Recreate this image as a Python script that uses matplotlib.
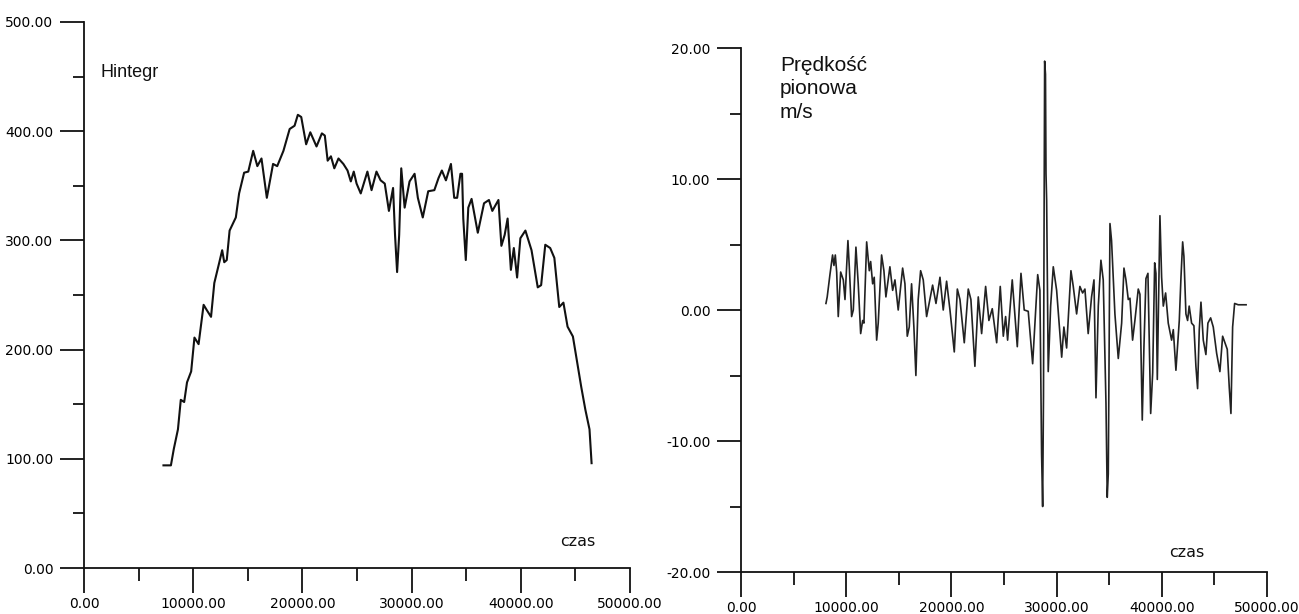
import matplotlib
matplotlib.use("Agg")
import matplotlib.pyplot as plt
from matplotlib.ticker import MultipleLocator, FormatStrFormatter

# ---- Left chart: Hintegr vs czas ----
h_time = [7273, 7955, 8220, 8600, 8860, 9170, 9430, 9810, 10110, 10490, 10950, 11250,
          11630, 11930, 12390, 12650, 12840, 13070, 13330, 13900, 14200, 14660, 15040,
          15490, 15870, 16250, 16740, 17310, 17690, 18260, 18830, 19280, 19580, 19890,
          20340, 20720, 21290, 21780, 22050, 22310, 22610, 22920, 23300, 23750, 24130,
          24430, 24700, 24960, 25340, 25950, 26330, 26780, 27160, 27540, 27920, 28300,
          28480, 28670, 28860, 29050, 29360, 29810, 30270, 30570, 31020, 31520, 32080,
          32460, 32770, 33140, 33600, 33900, 34170, 34470, 34620, 34730, 34960, 35190,
          35490, 36060, 36630, 37080, 37390, 37950, 38220, 38520, 38790, 39090, 39360,
          39660, 39960, 40420, 40980, 41550, 41860, 42240, 42690, 43070, 43520, 43900,
          44280, 44770, 45150, 45530, 45910, 46290, 46480]
h_value = [94, 94, 109, 127, 154, 152, 170, 180, 211, 205, 241, 236,
           230, 261, 280, 291, 280, 282, 309, 321, 343, 362, 363,
           382, 368, 375, 339, 370, 368, 382, 402, 405, 415, 413,
           388, 399, 386, 398, 396, 373, 377, 366, 375, 370, 364,
           354, 363, 352, 343, 363, 346, 363, 355, 352, 327, 348,
           305, 271, 305, 366, 330, 354, 361, 339, 321, 345, 346,
           357, 364, 355, 370, 339, 339, 361, 361, 320, 282, 330,
           338, 307, 334, 337, 327, 337, 295, 305, 320, 273, 293,
           266, 302, 309, 291, 257, 259, 296, 293, 284, 239, 243,
           221, 212, 189, 166, 145, 127, 96]

# ---- Right chart: vertical speed vs czas ----
v_time = [8080, 8200, 8460, 8710, 8840, 8970, 9100, 9250, 9480, 9730, 9890, 10170,
          10300, 10520, 10680, 10930, 11150, 11380, 11570, 11690, 11950, 12200, 12330,
          12520, 12670, 12900, 13050, 13370, 13590, 13780, 14160, 14420, 14640, 14950,
          15370, 15590, 15810, 16000, 16220, 16440, 16630, 16850, 17080, 17330, 17650,
          18220, 18540, 18920, 19230, 19550, 19870, 20280, 20570, 20820, 21230, 21610,
          21860, 22240, 22560, 22880, 23260, 23570, 23890, 24310, 24650, 24940, 25160,
          25350, 25790, 26270, 26620, 26930, 27310, 27730, 28210, 28420, 28580, 28680,
          28760, 28870, 28950, 29000, 29060, 29210, 29440, 29690, 30010, 30490, 30700,
          30960, 31370, 31590, 31910, 32220, 32480, 32700, 33010, 33330, 33560, 33750,
          33970, 34220, 34440, 34700, 34820, 34920, 35080, 35230, 35550, 35870, 36190,
          36410, 36600, 36820, 36980, 37230, 37450, 37770, 37930, 38150, 38310, 38500,
          38690, 38950, 39140, 39330, 39450, 39580, 39830, 39990, 40150, 40370, 40620,
          40940, 41100, 41350, 41670, 41830, 41990, 42110, 42300, 42460, 42610, 42840,
          43060, 43250, 43410, 43570, 43730, 43950, 44200, 44390, 44650, 44900, 45220,
          45530, 45790, 46010, 46230, 46420, 46580, 46740, 46930, 47270, 47750, 48020]
v_value = [0.5, 1.0, 2.7, 4.2, 3.4, 4.2, 2.9, -0.5, 2.9, 2.3, 0.8, 5.3,
           3.3, -0.5, 0.0, 4.8, 2.0, -1.8, -0.8, -1.0, 5.2, 3.0, 3.7,
           2.0, 2.5, -2.3, -1.0, 4.2, 3.0, 1.0, 3.3, 1.5, 2.3, 0.0,
           3.2, 2.0, -2.0, -1.3, 2.0, -1.3, -5.0, 0.8, 3.0, 2.3, -0.5,
           1.9, 0.5, 2.5, 0.0, 2.2, 0.0, -3.2, 1.6, 0.8, -2.5, 1.6,
           0.8, -4.3, 1.0, -1.8, 1.8, -0.8, 0.1, -2.5, 1.8, -2.0, -0.5,
           -2.3, 2.3, -2.8, 2.8, 0.0, -0.1, -4.1, 2.7, 1.5, -11.0, -15.0,
           -6.6, 19.0, 18.0, 10.4, 8.4, -4.7, 0.3, 3.3, 1.5, -3.6, -1.3,
           -2.9, 3.0, 1.8, -0.3, 1.8, 1.3, 1.6, -1.8, 1.0, 2.3, -6.7,
           0.3, 3.8, 2.3, -7.1, -14.3, -12.5, 6.6, 5.3, -0.3, -3.7, -1.0,
           3.2, 2.3, 0.8, 0.9, -2.3, -0.8, 1.6, 1.2, -8.4, -2.8, 2.4,
           2.8, -7.9, -4.8, 3.6, 2.8, -5.3, 7.2, 2.5, 0.3, 1.3, -1.0,
           -2.3, -1.5, -4.6, -0.8, 2.5, 5.2, 4.1, -0.3, -0.8, 0.3, -1.0,
           -1.2, -4.3, -6.0, -1.5, 0.6, -2.3, -3.4, -1.0, -0.6, -1.3, -3.3,
           -4.7, -2.0, -2.5, -3.0, -5.9, -7.9, -1.3, 0.5, 0.4, 0.4, 0.4]

x_ticks = [0, 10000, 20000, 30000, 40000, 50000]

fig = plt.figure(figsize=(12.99, 6.14), dpi=100)
ax1 = fig.add_axes([0.0647, 0.0749, 0.4203, 0.8893])
ax2 = fig.add_axes([0.5704, 0.0684, 0.4049, 0.8534])

for ax in (ax1, ax2):
    for s in ("top", "right"):
        ax.spines[s].set_visible(False)
    for s in ("left", "bottom"):
        ax.spines[s].set_linewidth(1.3)
        ax.spines[s].set_color("#111111")
    ax.set_xlim(0, 50000)
    ax.set_xticks(x_ticks)
    ax.xaxis.set_minor_locator(MultipleLocator(5000))
    ax.xaxis.set_major_formatter(FormatStrFormatter("%.2f"))
    ax.yaxis.set_major_formatter(FormatStrFormatter("%.2f"))
    ax.tick_params(axis="x", which="major", direction="out", length=18, width=1.3,
                   pad=3, colors="#111111")
    ax.tick_params(axis="x", which="minor", direction="out", length=9, width=1.3,
                   colors="#111111")
    ax.tick_params(axis="y", which="major", direction="out", length=17, width=1.3,
                   pad=5, colors="#111111")
    ax.tick_params(axis="y", which="minor", direction="out", length=8, width=1.3,
                   colors="#111111")

# Left
ax1.plot(h_time, h_value, color="#111111", lw=1.5)
ax1.set_ylim(0, 500)
ax1.yaxis.set_major_locator(MultipleLocator(100))
ax1.yaxis.set_minor_locator(MultipleLocator(50))
ax1.text(0.031, 0.908, "Hintegr", transform=ax1.transAxes, fontsize=13,
         family="Liberation Sans", va="center", ha="left", color="#111111")
ax1.text(0.905, 0.049, "czas", transform=ax1.transAxes, fontsize=11.5,
         family="DejaVu Sans", va="center", ha="center", color="#111111")

# Right
ax2.plot(v_time, v_value, color="#222222", lw=1.2)
ax2.set_ylim(-20, 20)
ax2.yaxis.set_major_locator(MultipleLocator(10))
ax2.yaxis.set_minor_locator(MultipleLocator(5))
ax2.text(0.074, 0.922, "Prędkość\npionowa\nm/s", transform=ax2.transAxes,
         fontsize=15, family="Liberation Sans", va="center", ha="left",
         linespacing=1.3, color="#111111")
ax2.text(0.848, 0.038, "czas", transform=ax2.transAxes, fontsize=11.5,
         family="DejaVu Sans", va="center", ha="center", color="#111111")

for lbl in ax1.get_xticklabels() + ax1.get_yticklabels() + ax2.get_xticklabels() + ax2.get_yticklabels():
    lbl.set_fontfamily("DejaVu Sans")
    lbl.set_fontsize(10)
    lbl.set_color("#000000")

fig.savefig("out.png", dpi=100, facecolor="white")
